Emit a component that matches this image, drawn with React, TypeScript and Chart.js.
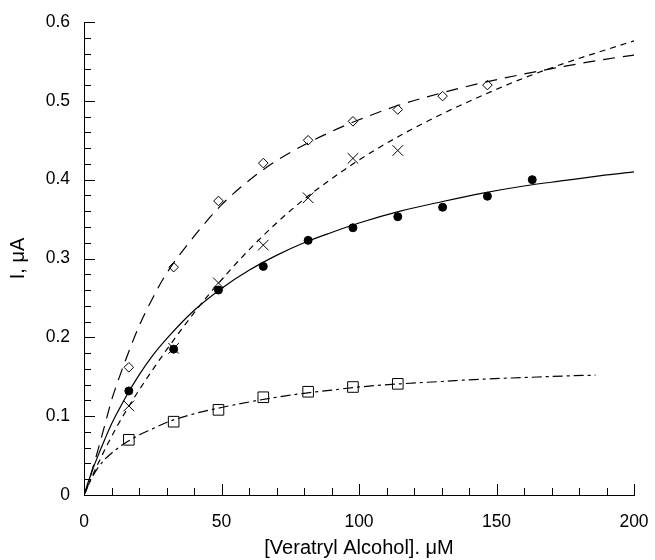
import React, { useEffect, useRef } from 'react';
import { Chart, registerables } from 'chart.js';

Chart.register(...registerables);

// Measured data points (x in µM)
const pointX = [16.3, 32.6, 48.9, 65.2, 81.5, 97.8, 114.1, 130.4, 146.7, 163.0];
const diamondY = [0.162, 0.289, 0.373, 0.421, 0.45, 0.474, 0.489, 0.506, 0.52];
const crossY = [0.113, 0.186, 0.269, 0.317, 0.377, 0.427, 0.437];
const circleY = [0.132, 0.185, 0.26, 0.29, 0.323, 0.339, 0.353, 0.365, 0.379, 0.4];
const squareY = [0.07, 0.093, 0.108, 0.124, 0.131, 0.137, 0.141];

// Fitted curves
const curveX = [0, 1, 2, 3, 5, 7.5, 10, 12.5, 15, 20, 25, 30, 40, 50, 60, 70, 80, 90, 100, 115, 130, 145, 160, 175, 190, 200];
const diamondFit = [0, 0.008, 0.02, 0.032, 0.056, 0.088, 0.12, 0.146, 0.17, 0.214, 0.25, 0.281, 0.328, 0.368, 0.399, 0.424, 0.444, 0.461, 0.476, 0.495, 0.51, 0.523, 0.534, 0.544, 0.553, 0.558];
const crossFit = [0, 0.008, 0.016, 0.024, 0.039, 0.057, 0.074, 0.09, 0.105, 0.133, 0.159, 0.184, 0.231, 0.273, 0.311, 0.345, 0.375, 0.401, 0.425, 0.456, 0.483, 0.507, 0.529, 0.548, 0.565, 0.576];
const circleFit = [0, 0.011, 0.021, 0.031, 0.049, 0.07, 0.09, 0.107, 0.123, 0.152, 0.177, 0.198, 0.234, 0.262, 0.285, 0.304, 0.32, 0.333, 0.345, 0.36, 0.372, 0.383, 0.392, 0.399, 0.406, 0.41];
const squareFitX = [0, 1, 2, 3, 5, 7.5, 10, 12.5, 15, 20, 25, 30, 40, 50, 60, 70, 80, 90, 100, 115, 130, 145, 160, 175, 186];
const squareFit = [0, 0.008, 0.016, 0.023, 0.034, 0.045, 0.053, 0.06, 0.066, 0.076, 0.084, 0.092, 0.103, 0.111, 0.118, 0.124, 0.129, 0.133, 0.137, 0.141, 0.144, 0.147, 0.149, 0.151, 0.152];

// Axis ticks
const xTickLabels = ['0', '50', '100', '150', '200'];
const yTickLabels = ['0', '0.1', '0.2', '0.3', '0.4', '0.5', '0.6'];
const xMinorStep = 10;
const yMinorStep = 0.02;

const toXY = (xs: number[], ys: number[]) => ys.map((y, i) => ({ x: xs[i], y }));

const FONT = '"Liberation Sans", Arial, Helvetica, sans-serif';

const inwardTicks = {
  id: 'inwardTicks',
  afterDraw(chart: any) {
    const { ctx, chartArea, scales } = chart;
    const xs = scales.x;
    const ys = scales.y;
    ctx.save();
    ctx.strokeStyle = '#000';
    ctx.lineWidth = 1;
    ctx.beginPath();
    for (let i = 0; i * xMinorStep <= 200 + 1e-9; i++) {
      const v = i * xMinorStep;
      const px = Math.round(xs.getPixelForValue(v)) + 0.5;
      const len = i % 5 === 0 ? 11 : 7;
      ctx.moveTo(px, chartArea.bottom);
      ctx.lineTo(px, chartArea.bottom - len);
    }
    for (let i = 0; i * yMinorStep <= 0.6 + 1e-9; i++) {
      const v = i * yMinorStep;
      const py = Math.round(ys.getPixelForValue(v)) + 0.5;
      const len = i % 5 === 0 ? 11 : 7;
      ctx.moveTo(chartArea.left, py);
      ctx.lineTo(chartArea.left + len, py);
    }
    ctx.stroke();
    ctx.restore();
  },
};

export default function App() {
  const ref = useRef<HTMLCanvasElement | null>(null);

  useEffect(() => {
    document.body.style.margin = '0';
    const canvas = ref.current;
    if (!canvas) return;
    const lineBase = {
      showLine: true,
      pointRadius: 0,
      pointHoverRadius: 0,
      borderColor: '#000',
      borderWidth: 1.2,
      cubicInterpolationMode: 'monotone' as const,
      fill: false,
    };
    const chart = new Chart(canvas, {
      type: 'scatter',
      data: {
        datasets: [
          {
            label: 'diamonds',
            data: toXY(pointX, diamondY),
            pointStyle: 'rectRot',
            pointRadius: 4.8,
            borderColor: '#000',
            backgroundColor: 'rgba(255,255,255,0)',
            borderWidth: 1,
          },
          {
            label: 'crosses',
            data: toXY(pointX, crossY),
            pointStyle: 'crossRot',
            pointRadius: 7.5,
            borderColor: '#000',
            backgroundColor: '#000',
            borderWidth: 1,
          },
          {
            label: 'circles',
            data: toXY(pointX, circleY),
            pointStyle: 'circle',
            pointRadius: 4,
            borderColor: '#000',
            backgroundColor: '#000',
            borderWidth: 1,
          },
          {
            label: 'squares',
            data: toXY(pointX, squareY),
            pointStyle: 'rect',
            pointRadius: 7.5,
            borderColor: '#000',
            backgroundColor: 'rgba(255,255,255,0)',
            borderWidth: 1,
          },
          { label: 'diamond fit', data: toXY(curveX, diamondFit), ...lineBase, borderDash: [12, 8] },
          { label: 'cross fit', data: toXY(curveX, crossFit), ...lineBase, borderDash: [6, 5] },
          { label: 'circle fit', data: toXY(curveX, circleFit), ...lineBase },
          { label: 'square fit', data: toXY(squareFitX, squareFit), ...lineBase, borderDash: [10, 4, 3, 4] },
        ],
      },
      options: {
        responsive: false,
        animation: false,
        events: [],
        layout: { padding: { top: 22, right: 21, left: 0, bottom: 0 } },
        plugins: {
          legend: { display: false },
          tooltip: { enabled: false },
        },
        scales: {
          x: {
            type: 'linear',
            min: 0,
            max: 200,
            afterFit: (s: any) => {
              s.height = 65;
              s.paddingLeft = 0;
              s.paddingRight = 0;
            },
            grid: { display: true, drawOnChartArea: false, drawTicks: false },
            border: { display: true, color: '#000', width: 1 },
            ticks: {
              stepSize: 50,
              padding: 17,
              color: '#000',
              font: { family: FONT, size: 17.5 },
              maxRotation: 0,
              callback: (_v: any, i: number) => xTickLabels[i],
            },
            title: {
              display: true,
              text: '[Veratryl Alcohol]. μM',
              color: '#000',
              font: { family: FONT, size: 20 },
              padding: { top: 0, bottom: 0 },
            },
          },
          y: {
            type: 'linear',
            min: 0,
            max: 0.6,
            afterFit: (s: any) => {
              s.width = 84;
              s.paddingTop = 0;
              s.paddingBottom = 0;
            },
            grid: { display: true, drawOnChartArea: false, drawTicks: false },
            border: { display: true, color: '#000', width: 1 },
            ticks: {
              stepSize: 0.1,
              padding: 14,
              color: '#000',
              font: { family: FONT, size: 17.5 },
              callback: (_v: any, i: number) => yTickLabels[i],
            },
            title: {
              display: true,
              text: 'I, μA',
              color: '#000',
              font: { family: FONT, size: 20 },
              padding: { top: 6, bottom: 0 },
            },
          },
        },
      },
      plugins: [inwardTicks],
    });
    return () => chart.destroy();
  }, []);

  return (
    <div style={{ width: 655, height: 560 }}>
      <canvas ref={ref} width={655} height={560} style={{ display: 'block' }} />
    </div>
  );
}
